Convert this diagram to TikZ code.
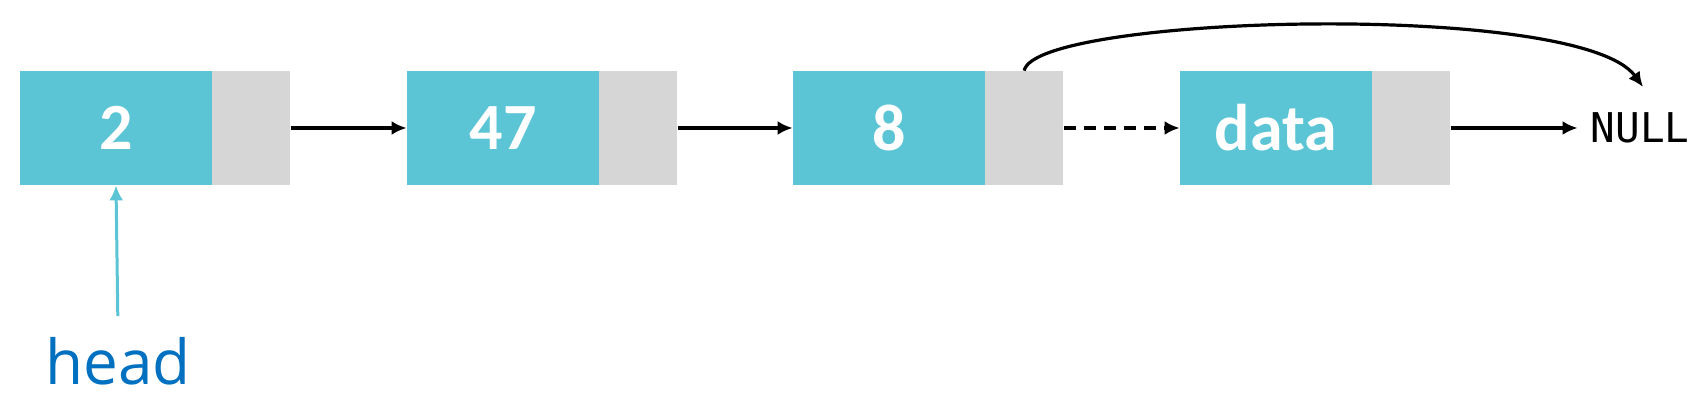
\documentclass[tikz,border=0pt]{standalone}
\usepackage{fontspec}
\usepackage{xcolor}
\usepackage{tikz}
\usetikzlibrary{arrows.meta,positioning}
\newfontfamily\boxfont{Carlito}
\newfontfamily\headfont{Open Sans}
\newfontfamily\nulltextfont{DejaVu Sans Mono}
\definecolor{nodecyan}{RGB}{91,197,214}
\definecolor{ptrgrey}{RGB}{214,214,214}
\definecolor{headblue}{RGB}{0,112,192}

\begin{document}
\begin{tikzpicture}[>={Latex[length=7.5pt,width=7pt]},line join=bevel,x=0.5pt,y=-0.5pt,
  databox/.style={fill=nodecyan,minimum width=96pt,minimum height=57pt,inner sep=0pt,
    text=white,font=\boxfont\bfseries\fontsize{33}{39}\selectfont},
  ptrbox/.style={fill=ptrgrey,minimum width=39pt,minimum height=57pt,inner sep=0pt},
  link/.style={->,line width=1.6pt},
]

\useasboundingbox (0,0) rectangle (1706,415);

% the list
\node[databox] (n1) at (116,128) {2};
\node[ptrbox,right=-0.3pt of n1] (p1) {};
\node[databox] (n2) at (503,128) {47};
\node[ptrbox,right=-0.3pt of n2] (p2) {};
\node[databox] (n3) at (889,128) {8};
\node[ptrbox,right=-0.3pt of n3] (p3) {};
\node[databox] (n4) at (1276,128) {data};
\node[ptrbox,right=-0.3pt of n4] (p4) {};

\node[font=\nulltextfont\fontsize{20.5}{24}\selectfont] (null) at (1640,128) {NULL};
\coordinate (nulltop) at (1643,87);

\draw[link] (p1.east) -- (n2.west);
\draw[link] (p2.east) -- (n3.west);
\draw[link,dash pattern=on 6pt off 4pt] (p3.east) -- (n4.west);
\draw[link,shorten >=3pt] (p4.east) -- (null.west);

\draw[link] (p3.north) .. controls (1035,15) and (1580,0) .. (nulltop);

% head pointer
\node[text=headblue,font=\headfont\fontsize{31}{37}\selectfont] (head) at (118,361) {head};
\draw[->,line width=1.5pt,nodecyan,shorten <=7pt] (head.north) -- (n1.south);

\end{tikzpicture}
\end{document}
